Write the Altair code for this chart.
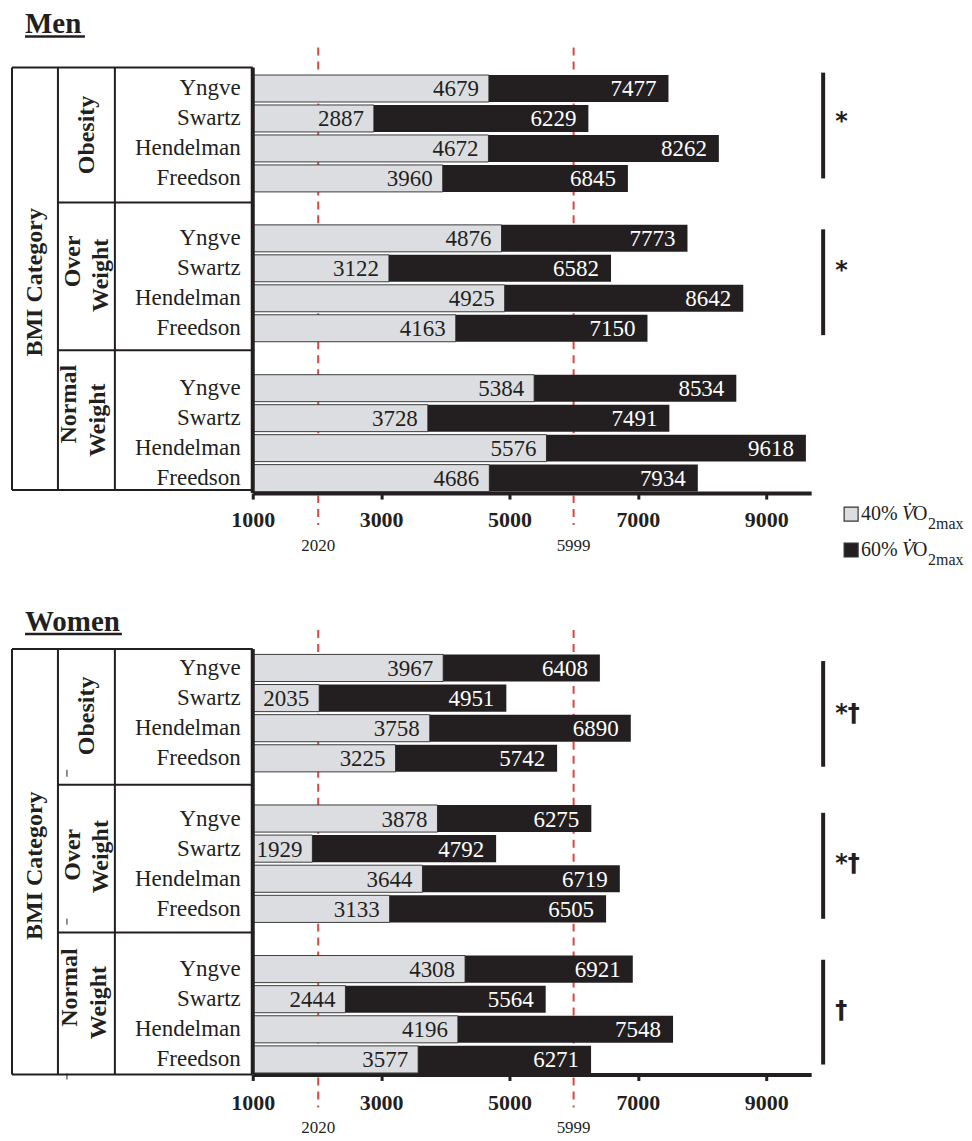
import altair as alt
import pandas as pd

# ---------------- data ----------------
methods = ["Yngve", "Swartz", "Hendelman", "Freedson"]
bmi_groups = [["Obesity"], ["Over", "Weight"], ["Normal", "Weight"]]
men_40 = [4679, 2887, 4672, 3960, 4876, 3122, 4925, 4163, 5384, 3728, 5576, 4686]
men_60 = [7477, 6229, 8262, 6845, 7773, 6582, 8642, 7150, 8534, 7491, 9618, 7934]
women_40 = [3967, 2035, 3758, 3225, 3878, 1929, 3644, 3133, 4308, 2444, 4196, 3577]
women_60 = [6408, 4951, 6890, 5742, 6275, 4792, 6719, 6505, 6921, 5564, 7548, 6271]
men_sig = ["*", "*", ""]
women_sig = ["*†", "*†", "†"]
thresholds = [2020, 5999]
x_ticks = [1000, 3000, 5000, 7000, 9000]
x_min, x_max = 1000, 9700

# ---------------- style / layout ----------------
FONT = "Liberation Serif"
GRAY = "#dcdde0"
BLACK = "#231f20"
RED = "#d24a46"
W = 559

men_layout = dict(
    H=420, title_y=-41, ul_y=-37, ul_x2=-168, tbl_top=-6, div=[129, 277], tbl_bot=417,
    dash=(-26, 452), thr_y=473, lab_pad=10,
    brackets=[(-0.53, 3.0), (4.7, 8.23), (9.7, 13.2)], sym_y=[1.0, 5.97, 11.0],
    group_pos=[[(-166, 61.5)], [(-180, 188), (-152, 202)], [(-184, 331), (-155, 347)]],
    bmi=(-218, 209), ticks=[], legend=True,
)
women_layout = dict(
    H=422, title_y=-22, ul_y=-19, ul_x2=-131, tbl_top=-4, div=[132, 280], tbl_bot=422,
    dash=(-23, 455), thr_y=476, lab_pad=12,
    brackets=[(-0.23, 3.28), (4.81, 8.33), (9.69, 13.17)], sym_y=[1.39, 6.37, 11.25],
    group_pos=[[(-166, 63)], [(-180, 202), (-152, 204)], [(-183, 335), (-154, 350)]],
    bmi=(-218, 213), ticks=[(117, 124), (266, 272), (421, 427)], legend=False,
)

one = pd.DataFrame({"k": [0]})


def vrule(x, y1, y2, w=2):
    return alt.Chart(one).mark_rule(color=BLACK, strokeWidth=w).encode(
        x=alt.value(x), y=alt.value(y1), y2=alt.value(y2))


def hrule(x1, x2, y, w=2):
    return alt.Chart(one).mark_rule(color=BLACK, strokeWidth=w).encode(
        x=alt.value(x1), x2=alt.value(x2), y=alt.value(y))


def label(txt, x, y, size, **kw):
    return alt.Chart(one).mark_text(text=txt, font=FONT, fontSize=size, color=BLACK, **kw).encode(
        x=alt.value(x), y=alt.value(y))


def panel(name, v40, v60, sig, L):
    H = L["H"]
    rows = []
    for g in range(3):
        for m in range(4):
            i = g * 4 + m
            rows.append({"row": g * 5 + m, "method": methods[m], "start": x_min,
                         "v40": v40[i], "v60": v60[i]})
    df = pd.DataFrame(rows)
    xs = alt.Scale(domain=[x_min, x_max], nice=False, zero=False)
    ys = alt.Scale(domain=[-0.5, 13.5], reverse=True, nice=False, zero=False)
    xa = alt.Axis(values=x_ticks, format="d", title=None, grid=False, labelFont=FONT,
                  labelFontSize=22, labelFontWeight="bold", labelColor=BLACK,
                  labelFlush=False, labelOverlap=False,
                  domainColor=BLACK, domainWidth=4, tickColor=BLACK, tickWidth=3,
                  tickSize=6, labelPadding=L["lab_pad"])
    base = alt.Chart(df).transform_calculate(y0="datum.row - 0.45", y1="datum.row + 0.45")

    thr = pd.DataFrame({"t": thresholds})
    dash = alt.Chart(thr).mark_rule(color=RED, strokeWidth=2, strokeDash=[8, 6]).encode(
        x=alt.X("t:Q", scale=xs, axis=xa), y=alt.value(L["dash"][0]), y2=alt.value(L["dash"][1]))
    thr_lab = alt.Chart(thr).mark_text(font=FONT, fontSize=17, color=BLACK, baseline="middle").encode(
        x=alt.X("t:Q", scale=xs, axis=xa), y=alt.value(L["thr_y"]), text=alt.Text("t:Q", format="d"))

    gray = base.mark_rect(fill=GRAY, stroke="#3c3c3c", strokeWidth=1).encode(
        x=alt.X("start:Q", scale=xs, axis=xa), x2="v40",
        y=alt.Y("y0:Q", scale=ys, axis=None), y2="y1")
    black = base.mark_rect(fill=BLACK).encode(
        x=alt.X("v40:Q", scale=xs, axis=xa), x2="v60",
        y=alt.Y("y0:Q", scale=ys, axis=None), y2="y1")
    t40 = base.mark_text(align="right", baseline="middle", dx=-10, dy=1, font=FONT, fontSize=23,
                         color=BLACK).encode(
        x=alt.X("v40:Q", scale=xs, axis=xa), y=alt.Y("row:Q", scale=ys, axis=None),
        text=alt.Text("v40:Q", format="d"))
    t60 = base.mark_text(align="right", baseline="middle", dx=-12, dy=1, font=FONT, fontSize=23,
                         color="white").encode(
        x=alt.X("v60:Q", scale=xs, axis=xa), y=alt.Y("row:Q", scale=ys, axis=None),
        text=alt.Text("v60:Q", format="d"))
    mlab = base.mark_text(align="right", baseline="middle", font=FONT, fontSize=23,
                          color=BLACK).encode(
        x=alt.value(-12), y=alt.Y("row:Q", scale=ys, axis=None), text="method:N")

    brows = []
    for g in range(3):
        if sig[g]:
            b0, b1 = L["brackets"][g]
            brows.append({"b0": b0, "b1": b1, "sy": L["sym_y"][g], "sig": sig[g]})
    bdf = pd.DataFrame(brows)
    br = alt.Chart(bdf).mark_rule(color=BLACK, strokeWidth=4).encode(
        x=alt.value(W + 12), y=alt.Y("b0:Q", scale=ys, axis=None), y2="b1")
    sy = alt.Chart(bdf).mark_text(align="left", baseline="middle", dy=4, font="DejaVu Sans",
                                  fontWeight="bold", fontSize=24, color=BLACK).encode(
        x=alt.value(W + 24), y=alt.Y("sy:Q", scale=ys, axis=None), text="sig:N")

    layers = [dash, gray, black, t40, t60, mlab, thr_lab, br, sy]

    # table frame
    top, bot = L["tbl_top"], L["tbl_bot"]
    layers += [hrule(-241, 0, top), hrule(-241, 0, bot), vrule(-241, top, bot),
               vrule(-195, top, bot), vrule(-138, top, bot)]
    layers += [hrule(-195, 0, d) for d in L["div"]]
    layers.append(vrule(0, top, H, w=4))
    for (a, b) in L["ticks"]:
        layers.append(vrule(-186, a, b, w=1))

    # labels
    for g, lines in enumerate(bmi_groups):
        for txt, (gx, gy) in zip(lines, L["group_pos"][g]):
            layers.append(label(txt, gx, gy, 24, angle=270, fontWeight="bold",
                                align="center", baseline="middle"))
    layers.append(label("BMI Category", L["bmi"][0], L["bmi"][1], 24, angle=270,
                        fontWeight="bold", align="center", baseline="middle"))
    layers.append(label(name, -228, L["title_y"], 29, fontWeight="bold", align="left",
                        baseline="alphabetic"))
    layers.append(hrule(-228, L["ul_x2"], L["ul_y"], w=2.5))

    if L["legend"]:
        for yy, fill, pct in [(441, GRAY, "40%"), (477, BLACK, "60%")]:
            layers.append(alt.Chart(one).mark_square(size=196, fill=fill, stroke="#333333",
                                                     strokeWidth=1.2, opacity=1).encode(
                x=alt.value(W + 40), y=alt.value(yy)))
            layers.append(label(pct, W + 50, yy, 20, align="left", baseline="middle"))
            layers.append(label("V\u0307", W + 91, yy, 20, align="left", baseline="middle",
                                fontStyle="italic"))
            layers.append(label("O", W + 102, yy, 20, align="left", baseline="middle"))
            layers.append(label("2max", W + 117, yy + 10, 16, align="left", baseline="middle"))

    return alt.layer(*layers).properties(width=W, height=H)


men = panel("Men", men_40, men_60, men_sig, men_layout)
women = panel("Women", women_40, women_60, women_sig, women_layout)

chart = alt.vconcat(men, women, spacing=40).properties(
    padding={"left": 3, "top": 1, "right": 0, "bottom": 0}
).configure_view(stroke=None)

chart.save("out.html", embed_options={"renderer": "svg", "actions": False})
